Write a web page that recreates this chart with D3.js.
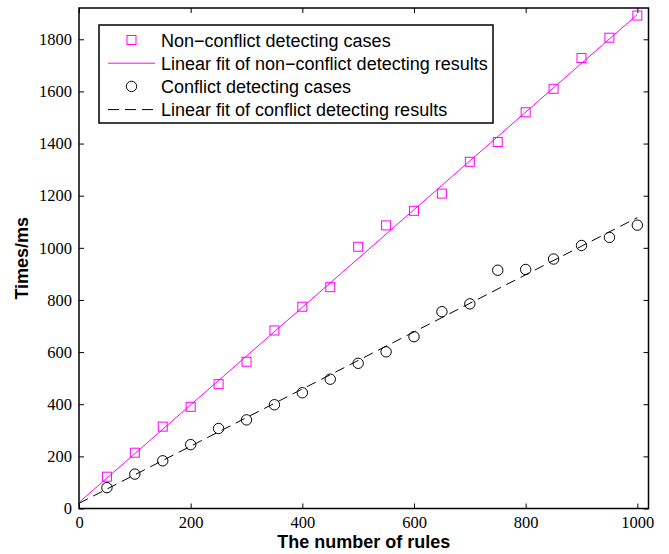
<!DOCTYPE html>
<html>
<head>
<script src="https://d3js.org/d3.v7.min.js"></script>
<style>
  body { margin: 0; background: #fff; }
</style>
</head>
<body>
<svg id="chart" width="669" height="554"></svg>
<script>
    // rules counts on the x axis
    var rules = [50, 100, 150, 200, 250, 300, 350, 400, 450, 500,
                 550, 600, 650, 700, 750, 800, 850, 900, 950, 1000];
    // times (ms)
    var nonConflict = [122, 214, 314, 390, 477, 563, 683, 774, 849, 1004,
                       1086, 1142, 1208, 1330, 1406, 1520, 1610, 1728, 1806, 1891];
    var conflict = [80, 132, 183, 245, 307, 340, 398, 444, 496, 557,
                    601, 659, 755, 785, 914, 917, 957, 1009, 1040, 1087];
    var xTicks = [0, 200, 400, 600, 800, 1000];
    var yTicks = [0, 200, 400, 600, 800, 1000, 1200, 1400, 1600, 1800];
    var fitRange = [0, 1000];

    var legendItems = [
        {label: "Non\u2212conflict detecting cases", type: "square"},
        {label: "Linear fit of non\u2212conflict detecting results", type: "line"},
        {label: "Conflict detecting cases", type: "circle"},
        {label: "Linear fit of conflict detecting results", type: "dash"}
    ];

    // least squares fit, as the original figure does
    function linfit(xs, ys) {
        var mx = d3.mean(xs), my = d3.mean(ys);
        var num = d3.sum(xs, function (x, i) {return (x - mx) * (ys[i] - my);});
        var den = d3.sum(xs, function (x) {return (x - mx) * (x - mx);});
        var b = num / den;
        return {a: my - b * mx, b: b};
    }

    var svg = d3.select("#chart");
    var margin = {top: 8, right: 20.5, bottom: 45.5, left: 79},
        width = +svg.attr("width") - margin.left - margin.right,
        height = +svg.attr("height") - margin.top - margin.bottom;

    var g = svg.append("g").attr("transform", "translate(" + margin.left + "," + margin.top + ")");

    var x = d3.scaleLinear().domain([0, 1020]).range([0, width]);
    var y = d3.scaleLinear().domain([0, 1920]).range([height, 0]);

    var serif = "'Liberation Serif', 'DejaVu Serif', serif";
    var sans = "'Liberation Sans', Arial, sans-serif";

    // axes: ticks inward on all four sides
    function styleAxis(sel) {
        sel.attr("font-family", null);
        sel.select(".domain").remove();
        sel.selectAll("line").attr("stroke", "#000").attr("stroke-width", 1);
        sel.selectAll("text").style("font-family", serif).style("font-size", "16.5px").attr("fill", "#000");
    }
    g.append("g").attr("transform", "translate(0," + height + ")")
        .call(d3.axisBottom(x).tickValues(xTicks).tickSizeInner(-5).tickPadding(8).tickFormat(d3.format("d")))
        .call(styleAxis);
    g.append("g")
        .call(d3.axisTop(x).tickValues(xTicks).tickSizeInner(-5).tickFormat(""))
        .call(styleAxis);
    g.append("g")
        .call(d3.axisLeft(y).tickValues(yTicks).tickSizeInner(-5).tickPadding(7).tickFormat(d3.format("d")))
        .call(styleAxis);
    g.append("g").attr("transform", "translate(" + width + ",0)")
        .call(d3.axisRight(y).tickValues(yTicks).tickSizeInner(-5).tickFormat(""))
        .call(styleAxis);

    g.append("rect")
        .attr("width", width).attr("height", height)
        .attr("fill", "none").attr("stroke", "#000").attr("stroke-width", 1.5);

    // fits
    var fitN = linfit(rules, nonConflict), fitC = linfit(rules, conflict);
    var line = d3.line()
        .x(function (d) {return x(d[0]);})
        .y(function (d) {return y(d[1]);});
    function fitPts(f) {return fitRange.map(function (v) {return [v, f.a + f.b * v];});}

    g.append("path").datum(fitPts(fitN))
        .attr("fill", "none").attr("stroke", "#ff00ff").attr("stroke-width", 1)
        .attr("d", line);
    g.append("path").datum(fitPts(fitC))
        .attr("fill", "none").attr("stroke", "#000").attr("stroke-width", 1)
        .attr("stroke-dasharray", "10,6")
        .attr("d", line);

    // points
    g.selectAll(".sq").data(rules).enter().append("rect")
        .attr("x", function (d) {return x(d) - 4.5;})
        .attr("y", function (d, i) {return y(nonConflict[i]) - 4.5;})
        .attr("width", 9).attr("height", 9)
        .attr("fill", "none").attr("stroke", "#ff00ff").attr("stroke-width", 1);
    g.selectAll(".ci").data(rules).enter().append("circle")
        .attr("cx", function (d) {return x(d);})
        .attr("cy", function (d, i) {return y(conflict[i]);})
        .attr("r", 5.2)
        .attr("fill", "none").attr("stroke", "#000").attr("stroke-width", 1);

    // axis labels
    svg.append("text")
        .attr("x", margin.left + width / 2).attr("y", 548)
        .attr("text-anchor", "middle")
        .style("font-family", sans).attr("font-weight", "bold").style("font-size", "18px")
        .text("The number of rules");
    svg.append("text")
        .attr("transform", "translate(28," + (margin.top + height / 2) + ") rotate(-90)")
        .attr("text-anchor", "middle")
        .style("font-family", sans).attr("font-weight", "bold").style("font-size", "18px")
        .text("Times/ms");

    // legend
    var lg = svg.append("g").attr("transform", "translate(99,25)");
    lg.append("rect").attr("width", 394).attr("height", 98)
        .attr("fill", "#fff").attr("stroke", "#000").attr("stroke-width", 1.5);
    var rows = lg.selectAll(".row").data(legendItems).enter().append("g")
        .attr("transform", function (d, i) {return "translate(0," + (15 + i * 23.2) + ")";});
    rows.each(function (d) {
        var r = d3.select(this);
        if (d.type === "square") {
            r.append("rect").attr("x", 28).attr("y", -4.5).attr("width", 9).attr("height", 9)
                .attr("fill", "none").attr("stroke", "#ff00ff");
        } else if (d.type === "circle") {
            r.append("circle").attr("cx", 32.5).attr("cy", 0).attr("r", 5.2)
                .attr("fill", "none").attr("stroke", "#000");
        } else {
            r.append("line").attr("x1", 9).attr("x2", 56).attr("y1", 0).attr("y2", 0)
                .attr("stroke", d.type === "line" ? "#ff00ff" : "#000")
                .attr("stroke-dasharray", d.type === "dash" ? "11,6" : null);
        }
        r.append("text").attr("x", 62).attr("y", 6.5)
            .style("font-family", sans).style("font-size", "18px").attr("fill", "#000")
            .text(d.label);
    });
</script>
</body>
</html>
